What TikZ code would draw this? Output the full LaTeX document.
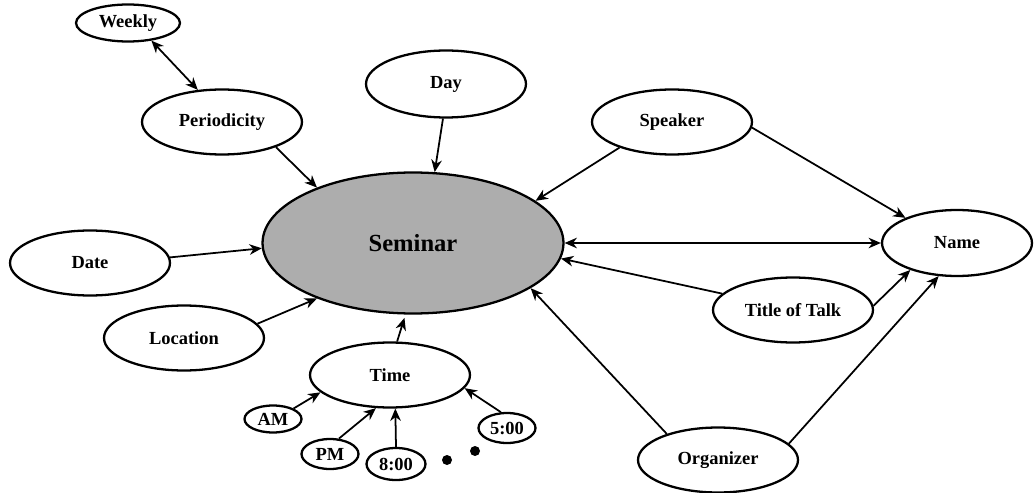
\documentclass[tikz,border=0pt]{standalone}
\usepackage{fontspec}
\setmainfont{Liberation Serif}
\usetikzlibrary{shapes.geometric, arrows.meta}

\begin{document}
\begin{tikzpicture}[x=0.02cm, y=-0.02cm, >={Stealth[length=7pt, width=6pt, inset=2.2pt]},
    bulle/.style={ellipse, draw, line width=1.3pt, inner sep=0pt,
      minimum width=3.2cm, minimum height=1.3cm,
      font=\bfseries\fontsize{10.5}{12}\selectfont},
    petit/.style={bulle, minimum width=1.14cm, minimum height=0.6cm},
    fleche/.style={line width=1pt, ->}]
      \useasboundingbox (0,0) rectangle (1034,493);

      % BULLES
      \node[bulle, fill=gray!64, minimum width=6.02cm, minimum height=2.82cm,
            font=\bfseries\fontsize{14}{16}\selectfont] (Sem) at (413,243) {Seminar};
      \node[bulle, minimum width=2.08cm, minimum height=0.74cm] (Week) at (128,23) {Weekly};
      \node[bulle] (Peri) at (222,122) {Periodicity};
      \node[bulle, minimum height=1.34cm] (Day) at (446,84) {Day};
      \node[bulle] (Speak) at (672,122) {Speaker};
      \node[bulle, minimum width=3cm, minimum height=1.32cm] (Name) at (957,243) {Name};
      \node[bulle] (Title) at (793,310) {Title of Talk};
      \node[bulle] (Orga) at (718,460) {Organizer};
      \node[bulle] (Date) at (90,263) {Date};
      \node[bulle] (Loc) at (184,338) {Location};
      \node[bulle] (Time) at (390,375) {Time};

      % HEURES
      \node[petit, minimum height=0.54cm] (AM) at (273,419) {AM};
      \node[petit] (PM) at (330,454) {PM};
      \node[petit, minimum width=1.18cm, minimum height=0.64cm] (Huit) at (396,464) {8:00};
      \node[petit] (Cinq) at (507,428) {5:00};
      \fill (447,460) circle (0.1cm);
      \fill (475,451) circle (0.1cm);

      % FLECHES
      \draw[fleche, <->] (Week.-37) -- (Peri.127);
      \draw[fleche] (Peri.-25) -- (Sem.150);
      \draw[fleche] (Day.-95) -- (Sem.73);
      \draw[fleche] (Speak.206) -- (Sem.19);
      \draw[fleche] (Speak.-4) -- (Name.154);
      \draw[fleche, <->] (Sem.east) -- (Name.west);
      \draw[fleche] (Title.167) -- (Sem.-6);
      \draw[fleche] (Title.3) -- (Name.210);
      \draw[fleche] (Orga.153) -- (Sem.-21);
      \draw[fleche] (Orga.13) -- (Name.241);
      \draw[fleche] (Date.4) -- (Sem.182);
      \draw[fleche] (Loc.11) -- (Sem.210);
      \draw[fleche, shorten >=2pt] (Time.78) -- (Sem.-96);

      \draw[fleche] (AM.27) -- (Time.194);
      \draw[fleche] (PM.60) -- (Time.247);
      \draw[fleche] (Huit.north) -- (Time.-81);
      \draw[fleche] (Cinq.111) -- (Time.-10);
\end{tikzpicture}
\end{document}
